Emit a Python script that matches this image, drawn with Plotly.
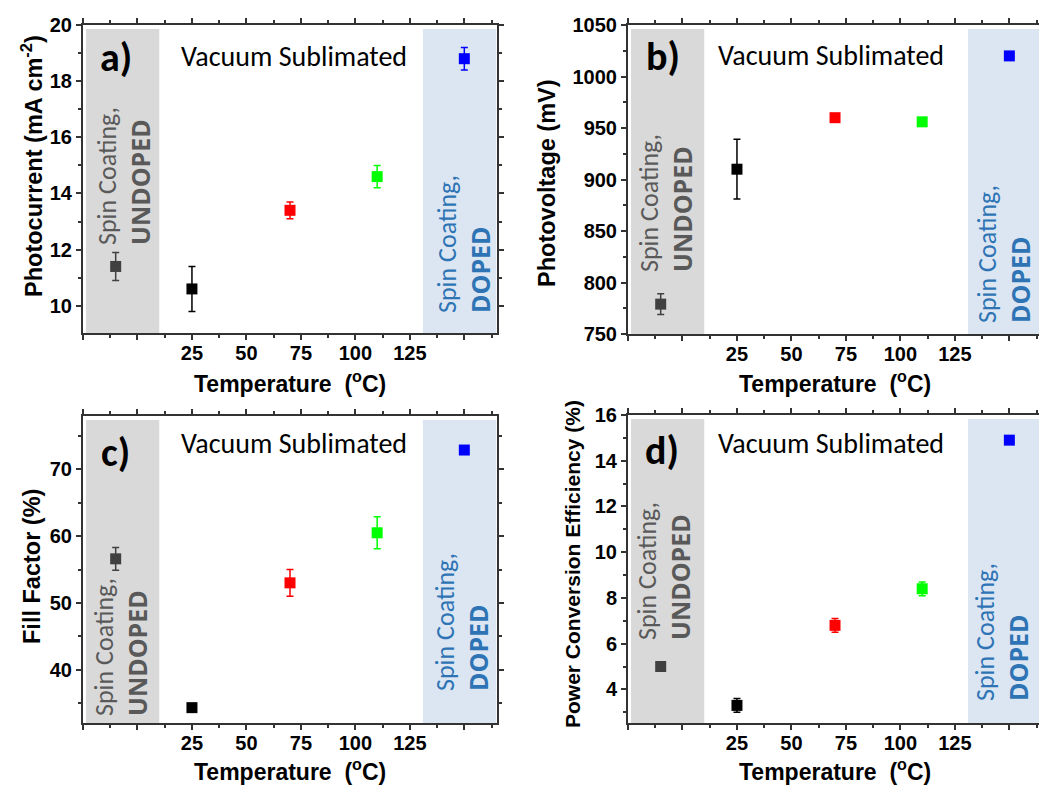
import plotly.graph_objects as go

W, H = 1039, 785

# Sample positions on the temperature axis; -10 and 150 hold the spin-coated references
x_pos = [-10, 25, 70, 110, 150]
point_colors = ["#404040", "#000000", "#ff0000", "#00ff00", "#0000ff"]

jsc = [11.4, 10.6, 13.4, 14.6, 18.8]
jsc_err = [0.5, 0.8, 0.3, 0.4, 0.4]
voc = [779, 910, 960, 956, 1020]
voc_err = [10, 29, 3, 3, 3]
ff = [56.6, 34.3, 53.0, 60.5, 72.9]
ff_err = [1.7, 0.5, 2.0, 2.4, 0.5]
pce = [5.0, 3.3, 6.8, 8.4, 14.9]
pce_err = [0.1, 0.3, 0.3, 0.3, 0.1]

x_tickvals = [-25, 0, 25, 50, 75, 100, 125, 150]
x_ticktext = ["", "", "25", "50", "75", "100", "125", ""]

undoped_span = [-23.6, 10]
doped_span = [131, 164.7]

AXIS_FONT = "Liberation Sans, Arial, sans-serif"
TEXT_FONT = "Carlito, Lato, sans-serif"
AXIS_COLOR = "#333333"
GREY_FILL = "#d9d9d9"
BLUE_FILL = "#dce6f2"
GREY_TEXT = "#595959"
BLUE_TEXT = "#2e74b5"


def px(x):
    return x / W


def py(y):
    return 1 - y / H


def band_label(word):
    return ("Spin Coating,<br><span style='font-family:Open Sans;font-weight:bold;font-size:25px'>"
            + word + "</span>")


panels = [
    dict(key="", y=jsc, err=jsc_err, xdom=(83, 497), ydom=(25, 333),
         xrange=[-25, 165], yrange=[9.03, 20], dtick=2, minor=1,
         ytitle="Photocurrent (mA cm<sup>-2</sup>)", ytitle_size=23.5, ytitle_pos=(32, 166),
         xtitle_pos=(290, 382), letter="a)", letter_pos=(116, 58), vac_pos=(294, 57),
         grey_txt=(124, 247), blue_txt=(464, 315)),
    dict(key="2", y=voc, err=voc_err, xdom=(628, 1039), ydom=(25, 334),
         xrange=[-25, 163.6], yrange=[750, 1050], dtick=50, minor=25,
         ytitle="Photovoltage (mV)", ytitle_size=23.5, ytitle_pos=(547, 183),
         xtitle_pos=(835, 382), letter="b)", letter_pos=(663, 57), vac_pos=(831, 56),
         grey_txt=(666, 274), blue_txt=(1004, 325)),
    dict(key="3", y=ff, err=ff_err, xdom=(83, 497), ydom=(416, 723),
         xrange=[-25, 165], yrange=[32, 78], dtick=10, minor=5,
         ytitle="Fill Factor (%)", ytitle_size=23.5, ytitle_pos=(32, 567),
         xtitle_pos=(290, 770), letter="c)", letter_pos=(115, 452), vac_pos=(294, 443),
         grey_txt=(121, 718), blue_txt=(462, 693)),
    dict(key="4", y=pce, err=pce_err, xdom=(628, 1039), ydom=(415, 723),
         xrange=[-25, 163.6], yrange=[2.53, 16], dtick=2, minor=1,
         ytitle="Power Conversion Efficiency (%)", ytitle_size=21, ytitle_pos=(572, 564),
         xtitle_pos=(835, 770), letter="d)", letter_pos=(662, 450), vac_pos=(831, 443),
         grey_txt=(664, 642), blue_txt=(1002, 703)),
]

fig = go.Figure()
layout = dict(
    width=W, height=H,
    margin=dict(l=0, r=0, t=0, b=0, pad=0, autoexpand=False),
    paper_bgcolor="white", plot_bgcolor="white",
    showlegend=False,
)
annotations = []
shapes = []

tick_font = dict(family=AXIS_FONT, size=20, color="black", weight="bold")

for p in panels:
    k = p["key"]
    xa, ya = "x" + k, "y" + k
    right_side = p["xdom"][1] >= W
    layout["xaxis" + k] = dict(
        domain=[px(p["xdom"][0]), px(p["xdom"][1])],
        anchor=ya, range=p["xrange"], automargin=False,
        tickvals=x_tickvals, ticktext=x_ticktext, ticklabelstandoff=-4,
        ticks="outside", ticklen=5, tickwidth=1.5, tickcolor=AXIS_COLOR,
        minor=dict(tick0=0, dtick=12.5, ticks="outside", ticklen=3, tickwidth=1.5, tickcolor=AXIS_COLOR),
        showline=True, linewidth=2, linecolor=AXIS_COLOR, mirror="allticks",
        showgrid=False, zeroline=False, tickfont=tick_font,
    )
    layout["yaxis" + k] = dict(
        domain=[py(p["ydom"][1]), py(p["ydom"][0])],
        anchor=xa, range=p["yrange"], automargin=False,
        tick0=0, dtick=p["dtick"],
        ticks="outside", ticklen=5, tickwidth=1.5, tickcolor=AXIS_COLOR,
        minor=dict(tick0=0, dtick=p["minor"], ticks="outside", ticklen=3, tickwidth=1.5, tickcolor=AXIS_COLOR),
        showline=True, linewidth=2, linecolor=AXIS_COLOR,
        mirror=False if right_side else "allticks",
        showgrid=False, zeroline=False, tickfont=tick_font,
    )

    # shaded spin-coating bands
    for span, fill in ((undoped_span, GREY_FILL), (doped_span, BLUE_FILL)):
        shapes.append(dict(type="rect", xref=xa, yref=ya + " domain",
                           x0=span[0], x1=span[1], y0=0, y1=0.987,
                           fillcolor=fill, line=dict(width=0), layer="below"))

    # one trace per sample so each error bar takes its marker colour
    for xv, yv, ev, col in zip(x_pos, p["y"], p["err"], point_colors):
        fig.add_trace(go.Scatter(
            x=[xv], y=[yv], xaxis=xa, yaxis=ya, mode="markers",
            marker=dict(symbol="square", size=11, color=col, line=dict(width=0)),
            error_y=dict(type="data", array=[ev], color=col, thickness=1.5, width=3.5),
        ))

    annotations += [
        dict(x=px(p["letter_pos"][0]), y=py(p["letter_pos"][1]), xref="paper", yref="paper",
             text="<b>" + p["letter"] + "</b>", showarrow=False, xanchor="center", yanchor="middle",
             font=dict(family=TEXT_FONT, size=40, color="black")),
        dict(x=px(p["vac_pos"][0]), y=py(p["vac_pos"][1]), xref="paper", yref="paper",
             text="Vacuum Sublimated", showarrow=False, xanchor="center", yanchor="middle",
             font=dict(family=TEXT_FONT, size=28, color="black")),
        dict(x=px(p["grey_txt"][0]), y=py(p["grey_txt"][1]), xref="paper", yref="paper",
             text=band_label("UNDOPED"), showarrow=False, textangle=-90, align="left",
             xanchor="center", yanchor="bottom",
             font=dict(family=TEXT_FONT, size=26, color=GREY_TEXT)),
        dict(x=px(p["blue_txt"][0]), y=py(p["blue_txt"][1]), xref="paper", yref="paper",
             text=band_label("DOPED"), showarrow=False, textangle=-90, align="left",
             xanchor="center", yanchor="bottom",
             font=dict(family=TEXT_FONT, size=26, color=BLUE_TEXT)),
        dict(x=px(p["ytitle_pos"][0]), y=py(p["ytitle_pos"][1]), xref="paper", yref="paper",
             text="<b>" + p["ytitle"] + "</b>", showarrow=False, textangle=-90,
             xanchor="center", yanchor="middle",
             font=dict(family=AXIS_FONT, size=p["ytitle_size"], color="black")),
        dict(x=px(p["xtitle_pos"][0]), y=py(p["xtitle_pos"][1]), xref="paper", yref="paper",
             text="<b>Temperature  (<sup>o</sup>C)</b>", showarrow=False,
             xanchor="center", yanchor="middle", borderpad=0,
             font=dict(family=AXIS_FONT, size=23, color="black")),
    ]

layout["annotations"] = annotations
layout["shapes"] = shapes
fig.update_layout(**layout)
fig.write_html("out.html")
